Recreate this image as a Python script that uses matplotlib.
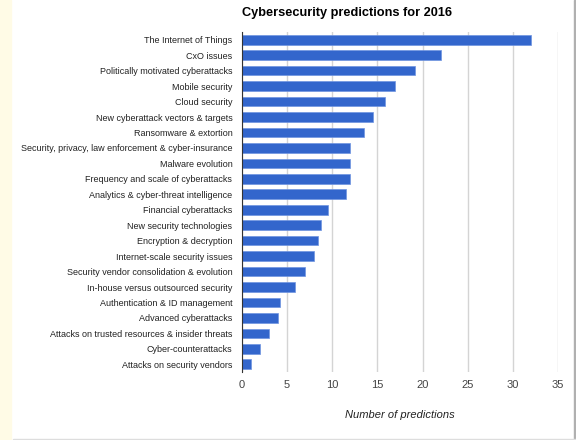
import matplotlib.pyplot as plt
from matplotlib.patches import Rectangle

topics = ['The Internet of Things', 'CxO issues', 'Politically motivated cyberattacks',
          'Mobile security', 'Cloud security', 'New cyberattack vectors & targets',
          'Ransomware & extortion', 'Security, privacy, law enforcement & cyber-insurance',
          'Malware evolution', 'Frequency and scale of cyberattacks',
          'Analytics & cyber-threat intelligence', 'Financial cyberattacks',
          'New security technologies', 'Encryption & decryption',
          'Internet-scale security issues', 'Security vendor consolidation & evolution',
          'In-house versus outsourced security', 'Authentication & ID management',
          'Advanced cyberattacks', 'Attacks on trusted resources & insider threats',
          'Cyber-counterattacks', 'Attacks on security vendors']
predictions = [32, 22, 19.2, 17, 15.8, 14.5, 13.5, 12, 12, 12, 11.5, 9.5,
               8.8, 8.4, 8, 7, 5.9, 4.2, 4, 3, 2, 1]
xticks = [0, 5, 10, 15, 20, 25, 30, 35]

plt.rcParams['font.family'] = ['Liberation Sans', 'DejaVu Sans']

fig = plt.figure(figsize=(5.76, 4.4), dpi=100)
ax = fig.add_axes([242 / 576, 1 - 372 / 440, 316 / 576, 340 / 440])

# beige strip on the left, grey frame right and bottom
fig.patches.append(Rectangle((0, 0), 11 / 576, 1, transform=fig.transFigure,
                             color='#fffbe6', zorder=0))
fig.patches.append(Rectangle((574 / 576, 0), 2 / 576, 1, transform=fig.transFigure,
                             color='#b0b0b0', zorder=0))
fig.patches.append(Rectangle((13 / 576, 0), 563 / 576, 1.5 / 440, transform=fig.transFigure,
                             color='#dddddd', zorder=0))

pos = list(range(len(topics)))
ax.barh(pos, predictions, height=0.62, color='#3366cc', edgecolor='#6f94e0',
        linewidth=0.5, zorder=3)
ax.set_ylim(len(topics) - 0.5, -0.5)
ax.set_xlim(0, 35)
ax.set_yticks(pos)
ax.set_yticklabels(topics, fontsize=6.5, color='#222222')
ax.set_xticks(xticks)
ax.set_xticklabels([str(t) for t in xticks], fontsize=8, color='#444444')
ax.tick_params(length=0)
ax.tick_params(axis='y', pad=7)
ax.tick_params(axis='x', pad=6)
ax.grid(axis='x', color='#d4d4d4', linewidth=1, zorder=0)
for s in ['top', 'right', 'bottom']:
    ax.spines[s].set_visible(False)
ax.spines['left'].set_color('#333333')
ax.spines['left'].set_zorder(4)

ax.set_xlabel('Number of predictions', fontsize=8, style='italic', color='#222222',
              labelpad=14)
fig.text(242 / 576, 1 - 13 / 440, 'Cybersecurity predictions for 2016', fontsize=9.2,
         fontweight='bold', ha='left', va='center', color='#000000')

fig.savefig('out.png', dpi=100)
